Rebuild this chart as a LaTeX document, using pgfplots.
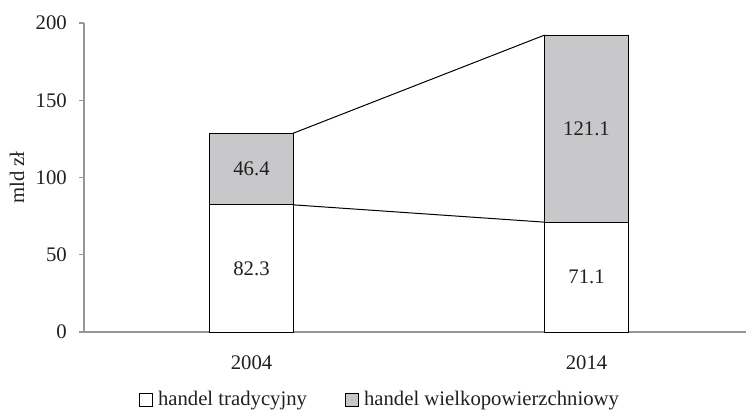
\documentclass[border=0pt]{standalone}
\usepackage{pgfplots}
\pgfplotsset{compat=1.18}
\usepackage{fontspec}
\setmainfont{Liberation Serif}

\definecolor{txt}{RGB}{35,31,32}
\definecolor{axgray}{RGB}{150,150,150}
\definecolor{barfill}{RGB}{200,200,202}

\pgfplotsset{
  common/.style={
    scale only axis, width=662bp, height=309bp,
    xmin=-0.5, xmax=1.476, ymin=0, ymax=200,
  },
}

\begin{document}
\fontsize{20.8}{25}\selectfont
\color{txt}
\begin{tikzpicture}
\begin{axis}[
    common,
    /pgf/number format/assume math mode=true,
    ybar stacked,
    bar width=84bp,
    xtick={0,1}, xticklabels={2004,2014},
    ytick={0,50,...,200},
    axis x line*=bottom, axis y line*=left,
    axis line style={axgray, line width=1.2bp},
    tick align=outside,
    major tick length=5bp,
    ytick style={axgray, line width=1.2bp},
    xtick style={draw=none},
    yticklabel style={anchor=east, inner sep=0pt, xshift=-12bp, text=txt},
    xticklabel style={anchor=base, inner sep=0pt, yshift=-32bp, text=txt},
    ylabel={mld zł},
    every axis y label/.style={at={(axis description cs:-0.101,0.5)}, rotate=90, anchor=center, text=txt},
    legend columns=-1,
    legend style={draw=none, fill=none, inner sep=0pt, at={(axis description cs:0.4456,-0.22)}, anchor=center,
      nodes={inner sep=0pt, text=txt},
      /tikz/every odd column/.append style={column sep=5bp},
      /tikz/every even column/.append style={column sep=38bp}},
    legend image code/.code={\draw[#1] (0bp,-7bp) rectangle (13bp,6bp);},
]
\addplot[draw=black, fill=white, line width=1bp] coordinates {(0,82.3) (1,71.1)};
\addplot[draw=black, fill=barfill, line width=1bp] coordinates {(0,46.4) (1,121.1)};
\legend{handel tradycyjny, handel wielkopowierzchniowy}
\end{axis}
\begin{axis}[common, hide axis]
\addplot[black, line width=1bp] coordinates {(0.125,82.3) (0.875,71.1)};
\addplot[black, line width=1bp] coordinates {(0.125,128.7) (0.875,192.2)};
\addplot[draw=none, nodes near coords, point meta=explicit symbolic,
  every node near coord/.style={anchor=center, text=txt}]
  coordinates {(0,41.15)[82.3] (1,35.55)[71.1] (0,105.5)[46.4] (1,131.65)[121.1]};
\end{axis}
\pgfresetboundingbox
\path[use as bounding box] (-84bp,-79bp) rectangle (663bp,332bp);
\end{tikzpicture}
\end{document}
